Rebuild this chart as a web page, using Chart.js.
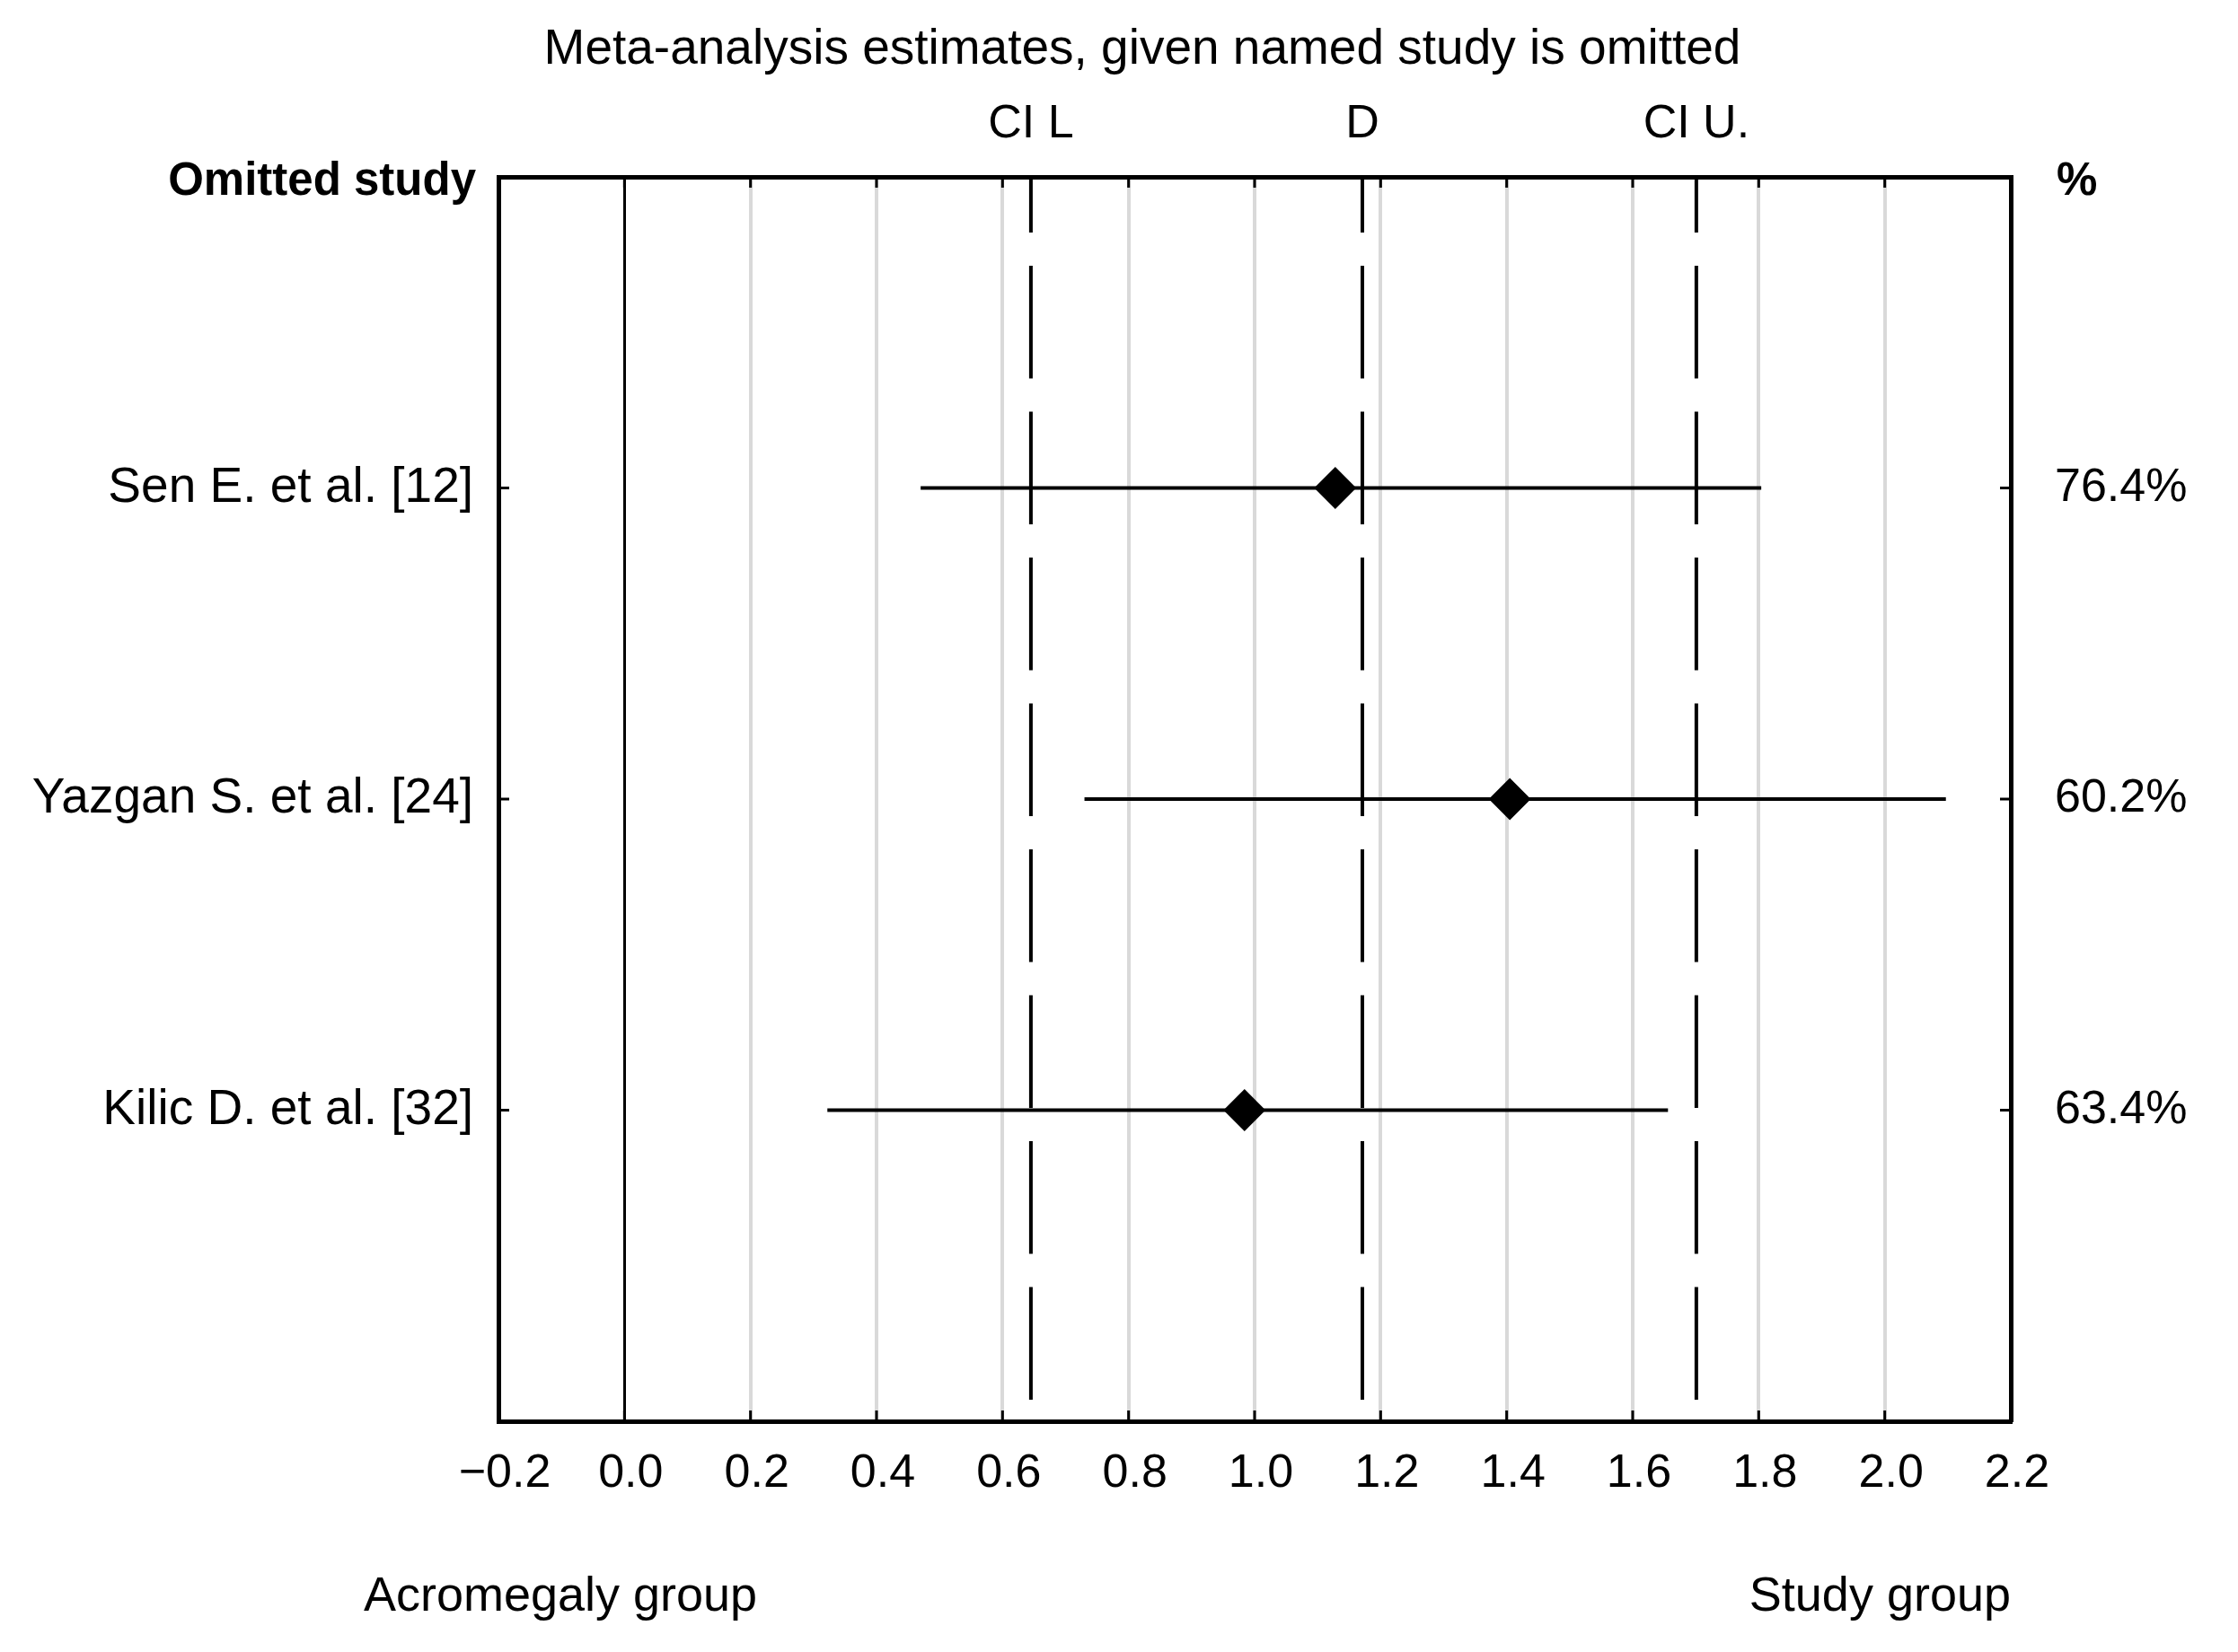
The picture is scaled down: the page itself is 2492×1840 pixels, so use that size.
<!DOCTYPE html>
<html>
<head>
<meta charset="utf-8">
<script src="https://cdn.jsdelivr.net/npm/chart.js@4.4.1/dist/chart.umd.min.js"></script>
<style>
  html, body { margin: 0; padding: 0; background: #fff; overflow: hidden; }
  canvas { display: block; }
</style>
</head>
<body>
<canvas id="forest" width="2492" height="1840"></canvas>
<script>
// leave-one-out meta-analysis, values
const studies = ['Sen E. et al. [12]', 'Yazgan S. et al. [24]', 'Kilic D. et al. [32]'];
const weights = ['76.4%', '60.2%', '63.4%'];
const effect = [1.128, 1.405, 0.984];
const ciLow = [0.470, 0.730, 0.322];
const ciHigh = [1.804, 2.097, 1.656];

// pooled estimate lines
const pooledNames = ['CI L', 'D', 'CI U.'];
const pooledValues = [0.645, 1.171, 1.701];

const FONT = '"Liberation Sans", Arial, sans-serif';

function fmt(v) {
    const s = Number(v).toFixed(1);
    return s.startsWith('-') ? '\u2212' + s.slice(1) : s;
}

function isZero(v) {
    return Math.abs(v) < 1e-9;
}

// inner ticks + free text around the plot
const extras = {
    id: 'extras',
    afterDraw(chart) {
        const { ctx, chartArea: a } = chart;
        const x = chart.scales.x;
        const y = chart.scales.y;
        ctx.save();
        ctx.strokeStyle = '#000';
        ctx.lineWidth = 3;
        x.ticks.forEach(t => {
            const px = x.getPixelForValue(t.value);
            ctx.beginPath();
            ctx.moveTo(px, a.top);
            ctx.lineTo(px, a.top + 12);
            ctx.moveTo(px, a.bottom);
            ctx.lineTo(px, a.bottom - 12);
            ctx.stroke();
        });
        y.ticks.forEach(t => {
            const py = y.getPixelForValue(t.value);
            ctx.beginPath();
            ctx.moveTo(a.left, py);
            ctx.lineTo(a.left + 12, py);
            ctx.moveTo(a.right, py);
            ctx.lineTo(a.right - 12, py);
            ctx.stroke();
        });

        ctx.fillStyle = '#000';
        ctx.textBaseline = 'alphabetic';
        ctx.textAlign = 'center';
        ctx.font = '55px ' + FONT;
        ctx.fillText('Meta-analysis estimates, given named study is omitted', 1272, 71);

        ctx.font = '52px ' + FONT;
        pooledNames.forEach((n, i) => {
            ctx.fillText(n, x.getPixelForValue(pooledValues[i]), 153);
        });

        ctx.font = 'bold 51px ' + FONT;
        ctx.textAlign = 'right';
        ctx.fillText('Omitted study', a.left - 25, 217);
        ctx.textAlign = 'left';
        ctx.fillText('%', 2290, 217);

        ctx.font = '54px ' + FONT;
        ctx.textAlign = 'center';
        ctx.fillText('Acromegaly group', 624, 1794);
        ctx.textAlign = 'right';
        ctx.fillText('Study group', a.right, 1794);
        ctx.restore();
    }
};

const datasets = [];
datasets.push({
    label: 'Estimate',
    data: effect.map((v, i) => ({ x: v, y: i + 1 })),
    pointStyle: 'rectRot',
    pointRadius: 22,
    pointBackgroundColor: '#000',
    pointBorderColor: '#000',
    pointBorderWidth: 2,
    showLine: false
});
studies.forEach((s, i) => {
    datasets.push({
        label: s,
        data: [{ x: ciLow[i], y: i + 1 }, { x: ciHigh[i], y: i + 1 }],
        showLine: true,
        borderColor: '#000',
        borderWidth: 4,
        pointRadius: 0
    });
});
pooledValues.forEach((v, i) => {
    datasets.push({
        label: pooledNames[i],
        data: [{ x: v, y: 0 }, { x: v, y: 4 }],
        showLine: true,
        borderColor: '#000',
        borderWidth: 4,
        borderDash: [125.5, 37],
        borderDashOffset: 63.5,
        pointRadius: 0
    });
});

const tickFont = { family: FONT, size: 52 };
const frame = { display: true, color: '#000', width: 5 };

new Chart(document.getElementById('forest'), {
    type: 'scatter',
    data: { datasets: datasets },
    plugins: [extras],
    options: {
        responsive: false,
        animation: false,
        devicePixelRatio: 1,
        layout: { padding: 0 },
        plugins: {
            legend: { display: false },
            tooltip: { enabled: false },
            title: { display: false }
        },
        scales: {
            x: {
                type: 'linear',
                position: 'bottom',
                min: -0.2,
                max: 2.2,
                ticks: {
                    stepSize: 0.2,
                    autoSkip: false,
                    maxRotation: 0,
                    color: '#000',
                    font: tickFont,
                    padding: 27,
                    labelOffset: 7,
                    callback: v => fmt(v)
                },
                grid: {
                    drawTicks: false,
                    color: c => isZero(c.tick.value) ? '#000' : '#d9d9d9',
                    lineWidth: c => isZero(c.tick.value) ? 3 : 4
                },
                border: frame,
                afterFit: s => { s.height = 257; }
            },
            xTop: {
                type: 'linear',
                position: 'top',
                min: -0.2,
                max: 2.2,
                ticks: { display: false },
                grid: { display: false, drawTicks: false },
                border: frame,
                afterFit: s => { s.height = 197; }
            },
            y: {
                type: 'linear',
                position: 'left',
                min: 0,
                max: 4,
                reverse: true,
                afterBuildTicks: s => { s.ticks = studies.map((_, i) => ({ value: i + 1 })); },
                ticks: {
                    autoSkip: false,
                    color: '#000',
                    font: { family: FONT, size: 55 },
                    padding: 28,
                    callback: v => studies[v - 1]
                },
                grid: { display: false, drawTicks: false },
                border: frame,
                afterFit: s => { s.width = 555; }
            },
            yRight: {
                type: 'linear',
                position: 'right',
                min: 0,
                max: 4,
                reverse: true,
                afterBuildTicks: s => { s.ticks = weights.map((_, i) => ({ value: i + 1 })); },
                ticks: {
                    autoSkip: false,
                    color: '#000',
                    font: tickFont,
                    padding: 49,
                    callback: v => weights[v - 1]
                },
                grid: { display: false, drawTicks: false },
                border: frame,
                afterFit: s => { s.width = 253; }
            }
        }
    }
});
</script>
</body>
</html>
